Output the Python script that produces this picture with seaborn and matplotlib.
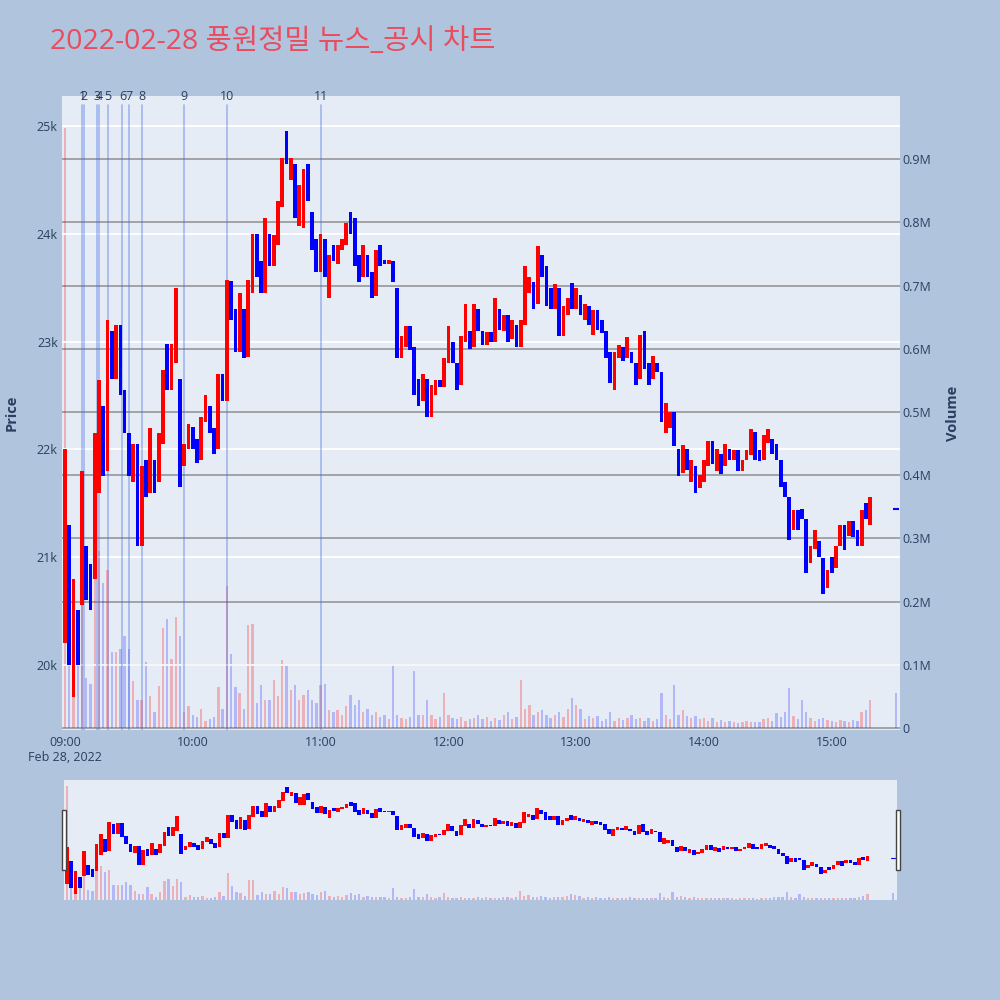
import matplotlib
matplotlib.use('Agg')
import matplotlib.pyplot as plt
import matplotlib.dates as mdates
import matplotlib.transforms as mtransforms
from matplotlib.patches import Rectangle
from matplotlib.ticker import FuncFormatter, FixedLocator
import seaborn as sns
import pandas as pd

# 2-minute candles from 09:00, price in KRW
opens = [
    20200, 21300, 19700, 20510, 20560, 21100, 20940, 20800, 21600, 22400,
    21800, 23100, 22650, 23150, 22550, 22150, 21700, 22050, 21100, 21900,
    21600, 21900, 21700, 22050, 22980, 22550, 22800, 22650, 21850, 22000,
    22210, 22100, 21900, 22250, 22400, 22200, 22000, 22700, 22450, 23560,
    23300, 22900, 23300, 22860, 23450, 24000, 23750, 23450, 24000, 23700,
    23900, 24250, 24950, 24500, 24650, 24070, 24050, 24650, 24200, 23950,
    23650, 23950, 23400, 23900, 23720, 23850, 23900, 24200, 24150, 23800,
    23600, 23800, 23650, 23420, 23900, 23760, 23720, 23750, 23500, 22850,
    22950, 23140, 22950, 22650, 22450, 22650, 22300, 22500, 22640, 22580,
    22800, 23000, 22800, 22600, 23000, 23100, 22950, 23300, 23100, 22970,
    23090, 23000, 23300, 23100, 23250, 23020, 23150, 22950, 23150, 23450,
    23550, 23350, 23800, 23700, 23500, 23300, 23500, 23050, 23250, 23540,
    23300, 23430, 23200, 23330, 23060, 23290, 23200, 23100, 22900, 22550,
    22850, 22950, 22850, 22900, 22800, 22650, 23100, 22800, 22650, 22800,
    22720, 22150, 22200, 22350, 22000, 21780, 22000, 21700, 21850, 21640,
    21700, 21850, 22080, 21800, 21960, 21850, 22000, 21900, 21990, 21800,
    21900, 21950, 22160, 21990, 21900, 22060, 22100, 22050, 21900, 21700,
    21560, 21250, 21440, 21450, 21350, 20950, 21080, 21150, 20990, 20710,
    21000, 20900, 21100, 21300, 21200, 21340, 21250, 21100, 21500, 21300,
]
closes = [
    22000, 20000, 20800, 20000, 21800, 20600, 20510, 22150, 22640, 21750,
    23200, 22650, 23150, 22500, 22150, 21750, 22050, 21100, 21850, 21560,
    22200, 21600, 22150, 22740, 22550, 22980, 23500, 21650, 22050, 22240,
    22000, 21870, 22300, 22500, 22150, 21960, 22700, 22450, 23570, 23200,
    22900, 23450, 22850, 23570, 24000, 23600, 23450, 24150, 23700, 23990,
    24300, 24700, 24650, 24700, 24150, 24450, 24600, 24300, 23850, 23650,
    24000, 23600, 23800, 23750, 23900, 23950, 24100, 24000, 23700, 23550,
    23900, 23600, 23400, 23850, 23700, 23720, 23760, 23550, 22850, 23050,
    23140, 22920, 22500, 22400, 22700, 22300, 22600, 22640, 22580, 22850,
    23140, 22800, 22550, 23050, 23350, 22930, 23350, 23100, 22970, 23090,
    23000, 23400, 23110, 23250, 23000, 23200, 22950, 23200, 23700, 23600,
    23300, 23890, 23600, 23330, 23300, 23530, 23050, 23330, 23400, 23300,
    23500, 23250, 23350, 23150, 23290, 23110, 23080, 22850, 22620, 22900,
    22970, 22820, 23040, 22800, 22600, 23060, 22750, 22600, 22870, 22720,
    22250, 22430, 22350, 22030, 21750, 22040, 21810, 21900, 21600, 21760,
    21900, 22080, 21860, 22000, 21770, 22050, 21900, 21990, 21800, 21900,
    21990, 22190, 21900, 21890, 22130, 22190, 21960, 21900, 21650, 21560,
    21160, 21440, 21250, 21350, 20850, 21100, 21250, 21000, 20660, 20880,
    20850, 21100, 21300, 21070, 21340, 21190, 21100, 21440, 21350, 21560,
]
volumes_k = [
    950, 130, 110, 140, 260, 80, 70, 330, 280, 230,
    250, 120, 120, 125, 145, 125, 75, 45, 45, 105,
    50, 25, 67, 158, 172, 110, 175, 145, 25, 35,
    20, 18, 30, 12, 15, 18, 65, 30, 225, 118,
    65, 55, 30, 163, 165, 40, 68, 45, 44, 76,
    50, 108, 100, 60, 68, 44, 52, 60, 44, 40,
    68, 70, 28, 25, 28, 20, 35, 52, 36, 44,
    25, 30, 21, 25, 18, 20, 15, 100, 21, 16,
    14, 18, 90, 20, 21, 44, 20, 15, 18, 55,
    21, 16, 14, 18, 12, 15, 16, 21, 14, 18,
    12, 16, 13, 20, 25, 15, 18, 76, 30, 36,
    20, 25, 28, 20, 16, 20, 25, 18, 30, 47,
    36, 30, 15, 19, 16, 19, 12, 14, 25, 12,
    16, 13, 16, 20, 14, 16, 12, 16, 12, 14,
    55, 20, 15, 68, 20, 28, 19, 16, 19, 15,
    16, 12, 16, 10, 13, 10, 12, 10, 8, 10,
    12, 10, 10, 9, 14, 16, 12, 24, 18, 25,
    63, 19, 15, 44, 25, 16, 12, 14, 16, 13,
    12, 10, 13, 12, 10, 13, 11, 25, 28, 45,
]

# closing auction print
auction_time = '2022-02-28 15:30'
auction_price = 21450
auction_volume_k = 55

news_times = ['09:08', '09:09', '09:15', '09:16', '09:20', '09:27',
              '09:30', '09:36', '09:56', '10:16', '11:00']
news_labels = ['1', '2', '3', '4', '5', '6', '7', '8', '9', '10', '11']

price_ticks = [20000, 21000, 22000, 23000, 24000, 25000]
volume_ticks = [0, 100000, 200000, 300000, 400000, 500000, 600000, 700000, 800000, 900000]

RED, BLUE = '#FF0000', '#0000FF'
TXT = '#2a3f5f'

sns.set_theme(style='white')
plt.rcParams['font.family'] = ['Open Sans', 'Noto Sans CJK KR', 'DejaVu Sans']

df = pd.DataFrame({
    'time': pd.date_range('2022-02-28 09:00', periods=len(opens), freq='2min'),
    'open': opens, 'close': closes,
    'volume': [v * 1000 for v in volumes_k],
})
df['x'] = mdates.date2num(df['time'])
df['lo'] = df[['open', 'close']].min(axis=1)
df['hi'] = df[['open', 'close']].max(axis=1)
df['up'] = df['close'] >= df['open']

auc_x = mdates.date2num(pd.Timestamp(auction_time))
MIN = 1 / 1440.0

fig = plt.figure(figsize=(10, 10), dpi=100, facecolor='#B0C4DE')


def draw_panel(ax_v, ax_p, body_w):
    ax_v.set_facecolor('#E5ECF6')
    ax_p.patch.set_visible(False)
    vcol = [(1, 0, 0, 0.25) if u else (0, 0, 1, 0.22) for u in df['up']]
    ax_v.bar(df['x'], df['volume'], width=1.1 * MIN, color=vcol, linewidth=0)
    ax_v.bar([auc_x], [auction_volume_k * 1000], width=1.1 * MIN,
             color=[(0, 0, 1, 0.22)], linewidth=0)
    heights = (df['hi'] - df['lo']).clip(lower=25)
    ccol = [RED if u else BLUE for u in df['up']]
    ax_p.bar(df['x'], heights, bottom=df['lo'], width=body_w * MIN,
             color=ccol, linewidth=0, zorder=3)
    ax_v.set_ylim(-3000, 1000000)
    ax_p.set_ylim(19397, 25278)
    start = mdates.date2num(pd.Timestamp('2022-02-28 08:58:36'))
    end = mdates.date2num(pd.Timestamp('2022-02-28 15:32'))
    ax_v.set_xlim(start, end)
    for a in (ax_v, ax_p):
        for s in a.spines.values():
            s.set_visible(False)


# main chart: volume axis underneath, price axis on top
ax_v = fig.add_axes([0.062, 0.270, 0.838, 0.634])
ax_p = ax_v.twinx()
ax_v.set_zorder(1)
ax_p.set_zorder(2)
draw_panel(ax_v, ax_p, 1.75)

sns.scatterplot(x=[auc_x], y=[auction_price], marker='_', s=18, color=BLUE,
                linewidth=1.5, ax=ax_p, zorder=4)

ax_v.yaxis.tick_right()
ax_v.yaxis.set_label_position('right')
ax_p.yaxis.tick_left()
ax_p.yaxis.set_label_position('left')

ax_v.yaxis.set_major_locator(FixedLocator(volume_ticks))
ax_v.yaxis.set_major_formatter(FuncFormatter(lambda v, p: '0' if v == 0 else f'{v / 1e6:.1f}M'))
ax_p.yaxis.set_major_locator(FixedLocator(price_ticks))
ax_p.yaxis.set_major_formatter(FuncFormatter(lambda v, p: f'{int(v / 1000)}k'))

ax_v.grid(axis='y', color='#8f8f8f', linewidth=1.1)
ax_v.grid(axis='x', visible=False)
ax_p.grid(axis='y', color='white', linewidth=1.3, zorder=0)
ax_p.set_axisbelow(True)

ax_v.tick_params(axis='y', length=0, pad=2, labelsize=9, labelcolor=TXT)
ax_p.tick_params(axis='y', length=0, pad=3, labelsize=9, labelcolor=TXT)
ax_v.xaxis.set_major_locator(mdates.HourLocator())
ax_v.xaxis.set_major_formatter(mdates.DateFormatter('%H:%M'))
ax_v.tick_params(axis='x', length=0, pad=4, labelsize=9, labelcolor=TXT)
ax_p.tick_params(axis='x', length=0)

ax_v.text(mdates.date2num(pd.Timestamp('2022-02-28 09:00')), -0.043, 'Feb 28, 2022',
          transform=mtransforms.blended_transform_factory(ax_v.transData, ax_v.transAxes),
          ha='center', va='center', fontsize=9, color=TXT)

ax_p.set_ylabel('Price', fontsize=10.5, fontweight='bold', color=TXT, labelpad=13)
ax_v.set_ylabel('Volume', fontsize=10.5, fontweight='bold', color=TXT, labelpad=10)

# news markers
trans = mtransforms.blended_transform_factory(ax_p.transData, ax_p.transAxes)
for t, lab in zip(news_times, news_labels):
    xn = mdates.date2num(pd.Timestamp('2022-02-28 ' + t))
    ax_p.axvline(xn, ymin=0, ymax=0.986, color=(0.26, 0.41, 0.88, 0.42), linewidth=1.2, zorder=2)
    ax_p.text(xn, 0.9985, lab, transform=trans, ha='center', va='center',
              fontsize=9, color=TXT, zorder=5)

# range slider
ax_sv = fig.add_axes([0.064, 0.100, 0.833, 0.120])
ax_sp = ax_sv.twinx()
ax_sv.set_zorder(1)
ax_sp.set_zorder(2)
draw_panel(ax_sv, ax_sp, 1.75)
ax_sp.plot([auc_x - MIN, auc_x + MIN], [auction_price] * 2, color=BLUE, lw=0.8)
for a in (ax_sv, ax_sp):
    a.set_xticks([])
    a.set_yticks([])
    a.grid(False)

for hx in (0.0615, 0.8955):
    fig.patches.append(Rectangle((hx, 0.130), 0.004, 0.060, transform=fig.transFigure,
                                 facecolor='white', edgecolor='#444444', linewidth=1.0, zorder=10))

fig.text(0.050, 0.958, '2022-02-28 풍원정밀 뉴스_공시 차트', fontsize=20.5, color='#EA4C5E',
         ha='left', va='center')

fig.savefig('out.png', dpi=100, facecolor=fig.get_facecolor())
